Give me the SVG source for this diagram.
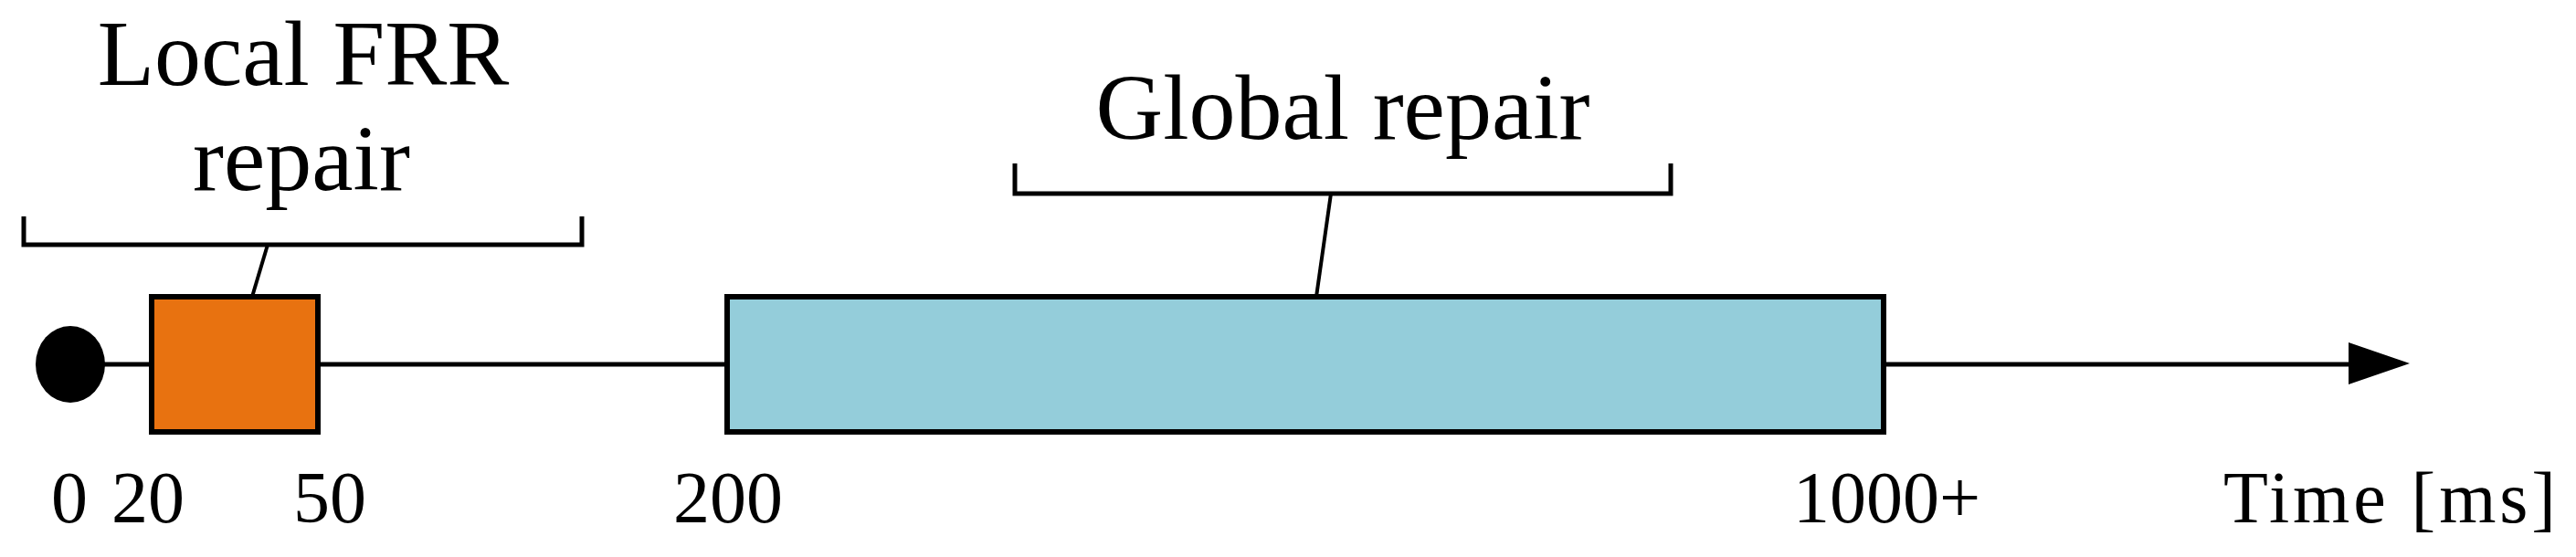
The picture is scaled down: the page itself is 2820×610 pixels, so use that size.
<svg xmlns="http://www.w3.org/2000/svg" width="2820" height="610" viewBox="0 0 2820 610">
<style>
text{font-family:"Liberation Serif","Times New Roman",serif;fill:#000}
.t{font-size:102px;text-anchor:middle}
.n{font-size:80px}
.b{fill:none;stroke:#000;stroke-width:5}
</style>
<rect width="2820" height="610" fill="#fff"/>
<g id="connectors">
<line x1="77" y1="399" x2="2575" y2="399" stroke="#000" stroke-width="5"/>
<polygon points="2571,375 2638,398 2571,421" fill="#000"/>
<polyline class="b" points="26,237 26,268 637,268 637,237"/>
<line x1="293" y1="268" x2="276" y2="325" stroke="#000" stroke-width="4"/>
<polyline class="b" points="1111,179 1111,212 1829,212 1829,179"/>
<line x1="1457" y1="212" x2="1441" y2="325" stroke="#000" stroke-width="4"/>
</g>
<g id="start"><ellipse cx="77" cy="399" rx="38" ry="42" fill="#000"/></g>
<g id="local"><rect x="166" y="325" width="182" height="148" fill="#E87210" stroke="#000" stroke-width="6"/></g>
<g id="global"><rect x="796" y="325" width="1266" height="148" fill="#94CDDA" stroke="#000" stroke-width="6"/></g>
<g id="labels">
<text class="t" x="332" y="93">Local FRR</text>
<text class="t" x="330" y="208">repair</text>
<text class="t" x="1470" y="152">Global repair</text>
<text class="n" x="56" y="572">0</text>
<text class="n" x="122" y="572">20</text>
<text class="n" x="321" y="572">50</text>
<text class="n" x="737" y="572">200</text>
<text class="n" x="1963" y="572">1000+</text>
<text class="n" x="2434" y="572" textLength="364">Time [ms]</text>
</g>
</svg>
